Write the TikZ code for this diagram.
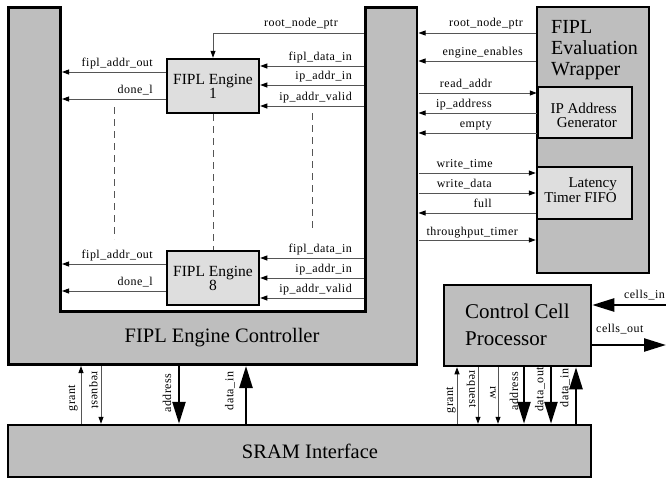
\documentclass[tikz,border=0pt]{standalone}
\usepackage{fontspec}
\setmainfont{Liberation Serif}
\newfontfamily\lblfont[LetterSpace=4]{Liberation Serif}
\usetikzlibrary{arrows.meta}
\definecolor{boxgray}{HTML}{BEBEBE}
\definecolor{enggray}{HTML}{DEDEDE}
\definecolor{wiregray}{HTML}{555555}
\tikzset{
  blk/.style={draw=black, line width=2.5pt, fill=boxgray, inner sep=0pt},
  engblk/.style={draw=black, line width=2.5pt, fill=enggray, minimum width=92pt,
    minimum height=54pt, align=center, font=\fontsize{15.5}{14}\selectfont, inner sep=0pt},
  sig/.style={draw=wiregray, line width=0.9pt, -{Triangle[length=7pt,width=5pt,color=black]}},
  bus/.style={draw=black, line width=2.4pt, -{Triangle[length=22pt,width=13pt]}},
  lbl/.style={font=\lblfont\fontsize{12}{13}\selectfont, inner sep=0pt},
  dsh/.style={draw=wiregray, line width=0.8pt, dash pattern=on 7pt off 5pt},
  bigtxt/.style={font=\fontsize{20.5}{21}\selectfont, inner sep=0pt},
}
\begin{document}
\begin{tikzpicture}[x=1pt,y=-1pt]
\useasboundingbox (0,0) rectangle (666,479);

% FIPL Engine Controller (U shape)
\draw[blk] (8.5,7.5) -- (60.5,7.5) -- (60.5,311.5) -- (365.5,311.5) -- (365.5,7.5)
  -- (417,7.5) -- (417,364.5) -- (8.5,364.5) -- cycle;
\coordinate (ciL) at (62,0);
\coordinate (ciR) at (364,0);
\coordinate (coR) at (418.5,0);
\coordinate (coB) at (0,366);
\node[bigtxt] (ctltxt) at (222,338) {FIPL Engine Controller};

% Engines
\node[engblk] (e1) at (213,86) {FIPL Engine\\1};
\node[engblk] (e8) at (213,278) {FIPL Engine\\8};

% Engine 1 signals
\draw[sig] (ciR |- 0,33) -| (e1.north);
\node[lbl, anchor=base east] (rnp1) at (338,27) {root\_node\_ptr};
\draw[sig] (e1.west |- 0,72) -- (ciL |- 0,72);
\node[lbl, anchor=base east] (fao1) at (153,66) {fipl\_addr\_out};
\draw[sig] (e1.west |- 0,99) -- (ciL |- 0,99);
\node[lbl, anchor=base east] (dl1) at (153,93) {done\_l};
\draw[sig] (ciR |- 0,66) -- (e1.east |- 0,66);
\node[lbl, anchor=base east] (fdi1) at (352,60) {fipl\_data\_in};
\draw[sig] (ciR |- 0,85) -- (e1.east |- 0,85);
\node[lbl, anchor=base east] (iai1) at (352,79) {ip\_addr\_in};
\draw[sig] (ciR |- 0,106) -- (e1.east |- 0,106);
\node[lbl, anchor=base east] (iav1) at (352,100) {ip\_addr\_valid};

% Engine 8 signals
\draw[sig] (e8.west |- 0,264) -- (ciL |- 0,264);
\node[lbl, anchor=base east] (fao8) at (153,258) {fipl\_addr\_out};
\draw[sig] (e8.west |- 0,291) -- (ciL |- 0,291);
\node[lbl, anchor=base east] (dl8) at (153,285) {done\_l};
\draw[sig] (ciR |- 0,258) -- (e8.east |- 0,258);
\node[lbl, anchor=base east] (fdi8) at (352,252) {fipl\_data\_in};
\draw[sig] (ciR |- 0,278) -- (e8.east |- 0,278);
\node[lbl, anchor=base east] (iai8) at (352,272) {ip\_addr\_in};
\draw[sig] (ciR |- 0,298) -- (e8.east |- 0,298);
\node[lbl, anchor=base east] (iav8) at (352,292) {ip\_addr\_valid};

% dashed continuation lines
\draw[dsh] (114,107) -- (114,239);
\draw[dsh] (e1.south) -- (e8.north);
\draw[dsh] (312,113) -- (312,232);

% Wrapper
\node[blk, minimum width=112pt, minimum height=266pt] (wrap) at (593,140) {};
\node[bigtxt, font=\fontsize{20}{21}\selectfont, align=left, anchor=north west] (wraptxt) at (551,20) {FIPL\\Evaluation\\Wrapper};
\node[blk, fill=enggray, minimum width=94pt, minimum height=51pt] (ipg) at (585,112.5) {};
\node[font=\fontsize{15}{13.5}\selectfont, align=right, anchor=north east, inner sep=0pt] (ipgtxt) at (617,103) {IP Address\\Generator};
\node[blk, fill=enggray, minimum width=95pt, minimum height=52pt] (lat) at (584.5,193) {};
\node[font=\fontsize{15}{15}\selectfont, align=right, anchor=north east, inner sep=0pt] (lattxt) at (617,177) {Latency\\Timer FIFO};

% Controller <-> Wrapper signals
\draw[sig] (wrap.west |- 0,33) -- (coR |- 0,33);
\node[lbl, anchor=base east] (rnp2) at (523,27) {root\_node\_ptr};
\draw[sig] (wrap.west |- 0,61) -- (coR |- 0,61);
\node[lbl, anchor=base east] (een) at (523,55) {engine\_enables};
\draw[sig] (coR |- 0,93) -- (ipg.west |- 0,93);
\node[lbl, anchor=base east] (rda) at (492,87) {read\_addr};
\draw[sig] (ipg.west |- 0,113) -- (coR |- 0,113);
\node[lbl, anchor=base east] (ipa) at (492,107) {ip\_address};
\draw[sig] (ipg.west |- 0,133) -- (coR |- 0,133);
\node[lbl, anchor=base east] (emp) at (492,127) {empty};
\draw[sig] (coR |- 0,173) -- (lat.west |- 0,173);
\node[lbl, anchor=base east] (wtm) at (493,167) {write\_time};
\draw[sig] (coR |- 0,193) -- (lat.west |- 0,193);
\node[lbl, anchor=base east] (wdt) at (492,187) {write\_data};
\draw[sig] (lat.west |- 0,213) -- (coR |- 0,213);
\node[lbl, anchor=base east] (ful) at (492,207) {full};
\draw[sig] (coR |- 0,240) -- (wrap.west |- 0,240);
\node[lbl, anchor=base east] (tpt) at (518,235) {throughput\_timer};

% Control Cell Processor
\node[blk, minimum width=147pt, minimum height=81pt] (ccp) at (517.5,325.5) {};
\node[font=\fontsize{21}{27}\selectfont, align=left, anchor=north west, inner sep=0pt] (ccptxt) at (465,304) {Control Cell\\Processor};
\coordinate (cin) at (666,305);
\coordinate (cout) at (666,345);
\draw[bus] (cin) -- (ccp.east |- cin);
\node[lbl, anchor=base east] (cinl) at (665,298) {cells\_in};
\draw[bus] (ccp.east |- cout) -- (cout);
\node[lbl, anchor=base west] (coutl) at (596,332) {cells\_out};

% SRAM Interface
\node[blk, minimum width=583pt, minimum height=52pt] (sram) at (299.5,451) {};
\node[bigtxt] (sramtxt) at (310,451) {SRAM Interface};

% Controller <-> SRAM
\draw[sig] (sram.north -| 81,0) -- (coB -| 81,0);
\node[lbl, rotate=90] (g1) at (73,398) {grant};
\draw[sig] (coB -| 101,0) -- (sram.north -| 101,0);
\node[lbl, rotate=-90] (r1) at (94,390) {request};
\draw[bus] (coB -| 179,0) -- (sram.north -| 179,0);
\node[lbl, rotate=90] (a1) at (167,393) {address};
\draw[bus] (sram.north -| 246,0) -- (coB -| 246,0);
\node[lbl, rotate=90] (d1) at (230,391) {data\_in};

% CCP <-> SRAM
\draw[sig] (sram.north -| 457,0) -- (ccp.south -| 457,0);
\node[lbl, rotate=90] (g2) at (451,400) {grant};
\draw[sig] (ccp.south -| 478,0) -- (sram.north -| 478,0);
\node[lbl, rotate=-90] (r2) at (471.5,389) {request};
\draw[sig] (ccp.south -| 498,0) -- (sram.north -| 498,0);
\node[lbl, rotate=-90] (rw2) at (493,393) {rw};
\draw[bus] (ccp.south -| 524,0) -- (sram.north -| 524,0);
\node[lbl, rotate=90] (a2) at (514,391) {address};
\draw[bus] (ccp.south -| 551,0) -- (sram.north -| 551,0);
\node[lbl, rotate=90] (do2) at (540,389.5) {data\_out};
\draw[bus] (sram.north -| 576,0) -- (ccp.south -| 576,0);
\node[lbl, rotate=90] (di2) at (565,388) {data\_in};
\end{tikzpicture}
\end{document}
